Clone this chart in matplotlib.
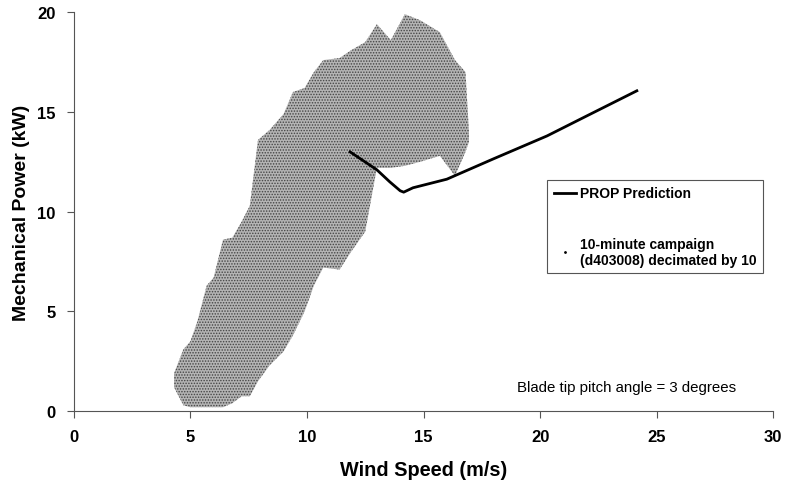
import matplotlib
matplotlib.use("Agg")
import matplotlib.pyplot as plt
from matplotlib.lines import Line2D

plt.rcParams['font.family'] = ['Liberation Sans', 'DejaVu Sans']
plt.rcParams['hatch.linewidth'] = 0.7

# PROP prediction curve (wind speed m/s, power kW)
pred_ws = [11.85, 13.0, 13.55, 14.0, 14.15, 14.55, 16.0, 18.0, 20.3, 22.0, 24.15]
pred_kw = [13.0, 12.1, 11.5, 11.05, 10.98, 11.2, 11.63, 12.65, 13.8, 14.8, 16.06]

# envelope of the 10-minute campaign cloud, read per wind speed
cloud_ws = [4.3, 4.7, 5.0, 5.3, 5.7, 6.0, 6.4, 6.8, 7.2, 7.55, 7.9, 8.4, 9.0, 9.4,
            9.9, 10.3, 10.7, 11.4, 11.9, 12.5, 13.0, 13.6, 14.2, 14.85, 15.7,
            16.35, 16.8, 16.95]
cloud_hi = [1.9, 3.1, 3.5, 4.5, 6.3, 6.7, 8.6, 8.7, 9.5, 10.3, 13.6, 14.1, 14.9, 16.0,
            16.2, 17.0, 17.6, 17.7, 18.1, 18.5, 19.4, 18.6, 19.9, 19.6, 19.0,
            17.6, 17.0, 14.0]
cloud_lo = [1.2, 0.3, 0.2, 0.2, 0.2, 0.2, 0.2, 0.4, 0.75, 0.75, 1.5, 2.3, 3.0, 3.8,
            5.0, 6.3, 7.2, 7.1, 8.0, 9.0, 12.2, 12.2, 12.3, 12.5, 12.8,
            11.8, 13.0, 13.5]

fig = plt.figure(figsize=(7.85, 4.89), dpi=100)
ax = fig.add_axes([0.094, 0.157, 0.891, 0.816])

ax.fill_between(cloud_ws, cloud_lo, cloud_hi, facecolor='#b4b4b4',
                edgecolor='#444444', hatch='......', linewidth=0, zorder=1)
ax.plot(pred_ws, pred_kw, color='black', lw=2, zorder=3)

ax.set_xlim(0, 30)
ax.set_ylim(0, 20)
ax.set_xticks(range(0, 31, 5))
ax.set_yticks(range(0, 21, 5))
for s in ['top', 'right']:
    ax.spines[s].set_visible(False)
for s in ['left', 'bottom']:
    ax.spines[s].set_color('#555555')
ax.tick_params(direction='out', length=5, color='#555555', labelsize=12, pad=8)
for lab in ax.get_xticklabels() + ax.get_yticklabels():
    lab.set_fontweight('bold')

ax.set_xlabel('Wind Speed (m/s)', fontsize=14.3, fontweight='bold', labelpad=11)
ax.set_ylabel('Mechanical Power (kW)', fontsize=14, fontweight='bold', labelpad=5)

handles = [Line2D([], [], color='black', lw=2),
           Line2D([], [], color='black', marker='.', markersize=2, ls='none')]
labels = ['PROP Prediction', '10-minute campaign\n(d403008) decimated by 10']
leg = ax.legend(handles, labels, loc='upper left', bbox_to_anchor=(0.677, 0.579),
                borderaxespad=0, fancybox=False, framealpha=1, edgecolor='#555555',
                handlelength=1.6, handletextpad=0.3, labelspacing=2.6,
                prop={'weight': 'bold', 'size': 10}, borderpad=0.45)
leg.get_frame().set_linewidth(0.8)

ax.text(0.634, 0.06, 'Blade tip pitch angle = 3 degrees', transform=ax.transAxes,
        fontsize=10.8, va='center', ha='left')

fig.savefig('out.png', dpi=100)
